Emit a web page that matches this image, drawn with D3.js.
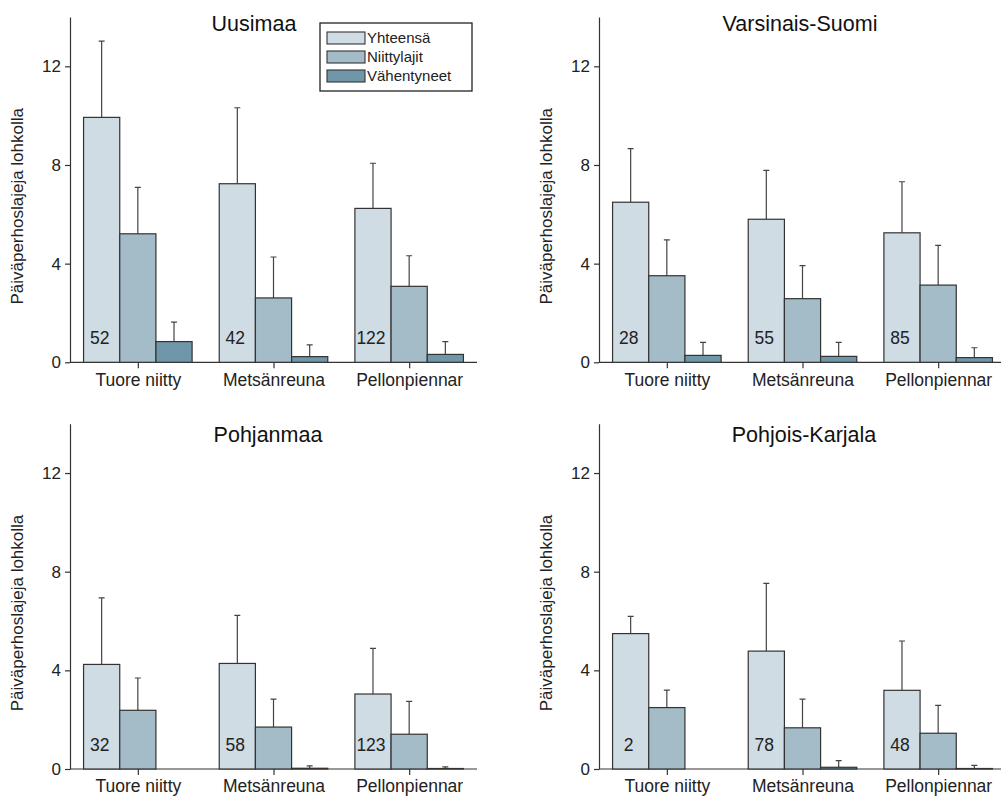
<!DOCTYPE html>
<meta charset="utf-8">
<style>
  body { margin: 0; background: #fff; }
  svg { display: block; font-family: "Liberation Sans", Arial, Helvetica, sans-serif; }
  .axis path, .axis line { stroke: #333; stroke-width: 1.2; }
  .axis text { fill: #222; }
</style>
<svg width="1001" height="796"></svg>
<script src="https://d3js.org/d3.v7.min.js"></script>
<script>

// data
var regions = ["Uusimaa", "Varsinais-Suomi", "Pohjanmaa", "Pohjois-Karjala"];
var habitats = ["Tuore niitty", "Metsänreuna", "Pellonpiennar"];
var series = ["Yhteensä", "Niittylajit", "Vähentyneet"];
var yTicks = [0, 4, 8, 12];
var yLabel = "Päiväperhoslajeja lohkolla";

// mean per habitat: [Yhteensä, Niittylajit, Vähentyneet]
var uusimaaMean   = [[9.93, 5.21, 0.84], [7.24, 2.61, 0.23], [6.24, 3.08, 0.32]];
var varsinaisMean = [[6.49, 3.51, 0.28], [5.80, 2.58, 0.24], [5.25, 3.13, 0.19]];
var pohjanmaaMean = [[4.24, 2.38, null], [4.28, 1.70, 0.03], [3.04, 1.41, 0.02]];
var karjalaMean   = [[5.49, 2.49, null], [4.78, 1.67, 0.07], [3.19, 1.45, 0.02]];

// top of the error bar
var uusimaaErr   = [[13.02, 7.09, 1.63], [10.32, 4.27, 0.71], [8.07, 4.32, 0.84]];
var varsinaisErr = [[8.66, 4.96, 0.81], [7.78, 3.92, 0.81], [7.32, 4.74, 0.59]];
var pohjanmaaErr = [[6.94, 3.69, null], [6.23, 2.83, 0.13], [4.89, 2.74, 0.09]];
var karjalaErr   = [[6.19, 3.20, null], [7.53, 2.83, 0.34], [5.19, 2.58, 0.15]];

// number of sites
var uusimaaN   = [52, 42, 122];
var varsinaisN = [28, 55, 85];
var pohjanmaaN = [32, 58, 123];
var karjalaN   = [2, 78, 48];

var means = [uusimaaMean, varsinaisMean, pohjanmaaMean, karjalaMean];
var errs = [uusimaaErr, varsinaisErr, pohjanmaaErr, karjalaErr];
var counts = [uusimaaN, varsinaisN, pohjanmaaN, karjalaN];

var colors = ["#cfdce4", "#a3bcc8", "#6f97a9"];

var svg = d3.select("svg");
var plotW = 407, plotH = 345.3;
var panelLeft = [70, 599], panelZero = [362.3, 769];
var titleX = [254, 800, 268, 804];
var titleY = [31, 31, 442, 442];

var color = d3.scaleOrdinal().domain(series).range(colors);

regions.forEach(function(region, i) {
  var col = i % 2, row = Math.floor(i / 2);
  var left = panelLeft[col], zero = panelZero[row];

  var x0 = d3.scaleBand().domain(habitats)
      .range([left, left + plotW]).paddingInner(0.2).paddingOuter(0.1);
  var x1 = d3.scaleBand().domain(series).range([0, x0.bandwidth()]);
  var y = d3.scaleLinear().domain([0, 14]).range([zero, zero - plotH]);

  var g = svg.append("g");

  // y axis
  g.append("g")
      .attr("class", "axis")
      .attr("transform", "translate(" + left + ",0)")
      .call(d3.axisLeft(y).tickValues(yTicks).tickSize(5).tickPadding(4).tickSizeOuter(0))
      .call(function(a) { a.selectAll("text").style("font-size", "17px"); });

  // x axis, ticks at group centres
  var xc = d3.scalePoint().domain(habitats)
      .range([x0(habitats[0]) + x0.bandwidth() / 2, x0(habitats[2]) + x0.bandwidth() / 2]);
  var xa = g.append("g")
      .attr("class", "axis")
      .attr("transform", "translate(0," + zero + ")")
      .call(d3.axisBottom(xc).tickSize(6).tickPadding(5).tickSizeOuter(0));
  xa.select(".domain").attr("d", "M" + left + ",0H" + (left + plotW));
  xa.selectAll("text").style("font-size", "17.5px");

  // bars
  var rows = [];
  habitats.forEach(function(h, hi) {
    series.forEach(function(s, si) {
      var v = means[i][hi][si];
      if (v === null) return;
      rows.push({ h: h, s: s, v: v, e: errs[i][hi][si] });
    });
  });

  g.selectAll(".err")
    .data(rows)
    .enter().append("path")
      .attr("class", "err")
      .attr("fill", "none")
      .attr("stroke", "#444")
      .attr("stroke-width", 1.2)
      .attr("d", function(d) {
        var cx = x0(d.h) + x1(d.s) + x1.bandwidth() / 2;
        return "M" + cx + "," + y(d.v) + "V" + y(d.e) +
               "M" + (cx - 3) + "," + y(d.e) + "H" + (cx + 3);
      });

  g.selectAll(".bar")
    .data(rows)
    .enter().append("rect")
      .attr("class", "bar")
      .attr("x", function(d) { return x0(d.h) + x1(d.s); })
      .attr("y", function(d) { return y(d.v); })
      .attr("width", x1.bandwidth())
      .attr("height", function(d) { return zero - y(d.v); })
      .attr("fill", function(d) { return color(d.s); })
      .attr("stroke", "#333")
      .attr("stroke-width", 1.2);

  // counts inside the first bar
  g.selectAll(".count")
    .data(habitats)
    .enter().append("text")
      .attr("class", "count")
      .attr("x", function(h) { return x0(h) + x1(series[0]) + x1.bandwidth() / 2 - 2; })
      .attr("y", zero - 18)
      .attr("text-anchor", "middle")
      .style("font-size", "17.5px")
      .attr("fill", "#222")
      .text(function(h, hi) { return counts[i][hi]; });

  // title
  g.append("text")
      .attr("x", titleX[i])
      .attr("y", titleY[i])
      .attr("text-anchor", "middle")
      .style("font-size", "21.5px")
      .attr("fill", "#111")
      .text(region);

  // y label
  g.append("text")
      .attr("transform", "translate(" + (left - 47.5) + "," + (zero - 156) + ") rotate(-90)")
      .attr("text-anchor", "middle")
      .style("font-size", "17px")
      .attr("fill", "#222")
      .text(yLabel);
});

// legend (first panel)
var legend = svg.append("g").attr("transform", "translate(320,23)");
legend.append("rect")
    .attr("width", 152).attr("height", 68)
    .attr("fill", "#fff").attr("stroke", "#222").attr("stroke-width", 1.3);
series.forEach(function(s, k) {
  legend.append("rect")
      .attr("x", 7).attr("y", 9 + k * 19)
      .attr("width", 38).attr("height", 12)
      .attr("fill", color(s)).attr("stroke", "#333").attr("stroke-width", 1.1);
  legend.append("text")
      .attr("x", 47).attr("y", 20 + k * 19)
      .style("font-size", "15px")
      .attr("fill", "#222")
      .text(s);
});

</script>
